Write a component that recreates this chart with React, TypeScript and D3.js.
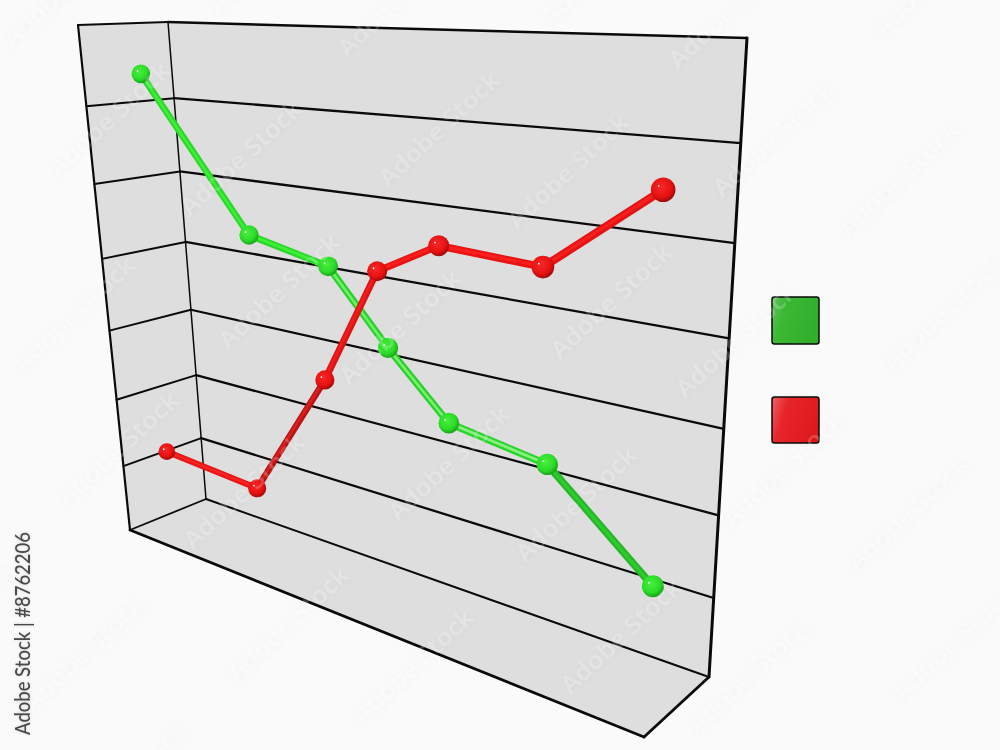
import React from "react";
import * as d3 from "d3";

type P = [number, number];

// Data, in wall units (position 0-10 along the wall, value 0-7 up the wall)
const greenPositions = [-0.79, 1.57, 3.29, 4.46, 5.61, 7.36, 9.1];
const greenValues = [6.29, 4.24, 4.0, 3.07, 2.26, 2.06, 0.91];
const redPositions = [-0.99, 1.37, 3.11, 4.29, 5.47, 7.25, 9.01];
const redValues = [0.58, 0.47, 2.42, 4.05, 4.5, 4.44, 5.46];
const gridValues = [1, 2, 3, 4, 5, 6];

// Tube shading per segment: [body, core]
const greenTube: [string, string][] = [
  ["#2ad82a", "#3cf034"], ["#2ad82a", "#40f038"], ["#2ad02a", "#70f068"],
  ["#2ad02a", "#78f070"], ["#2cd42c", "#88f080"], ["#26b826", "#2ecc2e"],
];
const redTube: [string, string][] = [
  ["#e81616", "#fa2222"], ["#b81414", "#dc1e1e"], ["#dc1414", "#f21c1c"],
  ["#e81414", "#fa1e1e"], ["#e81414", "#fa1e1e"], ["#e41414", "#f81e1e"],
];

// Where each repeated watermark starts
const watermarkStarts: P[] = [
  [13, 48], [218, 15], [347, 58], [58, 178], [190, 217], [388, 188], [23, 373], [228, 350], [349, 386],
  [550, 27], [678, 70], [883, 38], [722, 198], [848, 238], [517, 230], [560, 360], [892, 372], [685, 399],
  [67, 508], [193, 550], [398, 522], [33, 712], [237, 683], [362, 725], [75, 838], [-98, 676],
  [525, 563], [570, 695], [697, 735], [732, 528], [857, 572], [902, 702],
];

// Scene geometry
const backWall: P[] = [[168, 22], [747, 38], [709, 677], [206, 499]];
const sideWall: P[] = [[78, 25], [168, 22], [206, 499], [130, 530]];
const floor: P[] = [[130, 530], [206, 499], [709, 677], [644, 737]];

function homography(q: P[]) {
  const [[x0, y0], [x1, y1], [x2, y2], [x3, y3]] = q;
  const dx1 = x1 - x2, dx2 = x3 - x2, sx = x0 - x1 + x2 - x3;
  const dy1 = y1 - y2, dy2 = y3 - y2, sy = y0 - y1 + y2 - y3;
  const den = dx1 * dy2 - dx2 * dy1;
  const g = (sx * dy2 - dx2 * sy) / den, h = (dx1 * sy - sx * dy1) / den;
  const m = [x1 - x0 + g * x1, x3 - x0 + h * x3, x0, y1 - y0 + g * y1, y3 - y0 + h * y3, y0, g, h];
  return (u: number, v: number): P => {
    const w = m[6] * u + m[7] * v + 1;
    return [(m[0] * u + m[1] * v + m[2]) / w, (m[3] * u + m[4] * v + m[5]) / w];
  };
}

const u = d3.scaleLinear().domain([0, 10]).range([0, 1]);
const v = d3.scaleLinear().domain([0, 7]).range([1, 0]);
const backMap = homography(backWall);
const sideMap = homography(sideWall);
const back = (pos: number, val: number) => backMap(u(pos), v(val));
const poly = d3.line<P>();
const greenRadius = d3.scaleLinear().domain([141, 653]).range([9.3, 11]);
const redRadius = d3.scaleLinear().domain([167, 663]).range([8.3, 12.3]);

const INK = "#0a0a0a";

function Series({ positions, values, id, tube, radius }: { positions: number[]; values: number[]; id: string; tube: [string, string][]; radius: (x: number) => number }) {
  const pts = positions.map((p, i) => back(p, values[i]));
  return (
    <g>
      {pts.slice(1).map((p, i) => {
        const a = pts[i];
        const w = radius((a[0] + p[0]) / 2) * 0.7;
        const d = poly([a, p]) as string;
        return (
          <g key={i} fill="none">
            <path d={d} stroke={tube[i][0]} strokeWidth={w} />
            <path d={d} stroke={tube[i][1]} strokeWidth={w * 0.38} transform="translate(-0.4,-0.4)" />
          </g>
        );
      })}
      {pts.map((p, i) => {
        const r = radius(p[0]);
        return (
          <g key={i}>
            <circle cx={p[0]} cy={p[1]} r={r} fill={`url(#${id})`} />
            <circle cx={p[0] - r * 0.36} cy={p[1] - r * 0.3} r={0.9} fill="#ffffff" />
          </g>
        );
      })}
    </g>
  );
}

export default function App() {
  return (
    <svg width={1000} height={750} viewBox="0 0 1000 750" style={{ position: "absolute", left: 0, top: 0 }}>
      <defs>
        <radialGradient id="ballG" cx="0.42" cy="0.38" r="0.66">
          <stop offset="0" stopColor="#48f03e" />
          <stop offset="0.62" stopColor="#2cdc28" />
          <stop offset="1" stopColor="#159a15" />
        </radialGradient>
        <radialGradient id="ballR" cx="0.42" cy="0.38" r="0.66">
          <stop offset="0" stopColor="#f82828" />
          <stop offset="0.62" stopColor="#e81212" />
          <stop offset="1" stopColor="#980808" />
        </radialGradient>
        <linearGradient id="legG" x1="0" y1="0.15" x2="1" y2="0.45">
          <stop offset="0" stopColor="#62c45c" />
          <stop offset="0.28" stopColor="#3cb834" />
          <stop offset="1" stopColor="#30ae2c" />
        </linearGradient>
        <linearGradient id="legR" x1="0" y1="0.15" x2="1" y2="0.45">
          <stop offset="0" stopColor="#ec5a5e" />
          <stop offset="0.3" stopColor="#e6242a" />
          <stop offset="1" stopColor="#de1a1c" />
        </linearGradient>
        <filter id="wmShadow" x="-10%" y="-10%" width="120%" height="120%">
          <feDropShadow dx="1" dy="1" stdDeviation="3" floodColor="#000" floodOpacity="0.14" />
        </filter>
        <filter id="idShadow" x="-10%" y="-10%" width="120%" height="120%">
          <feDropShadow dx="0" dy="0" stdDeviation="1.5" floodColor="#000" floodOpacity="0.15" />
        </filter>
      </defs>

      <rect width={1000} height={750} fill="#fafafa" />

      <path d={poly(sideWall) + "Z"} fill="#dedede" />
      <path d={poly(backWall) + "Z"} fill="#dedede" />
      <path d={poly(floor) + "Z"} fill="#dedede" />

      <g fill="none" stroke={INK} strokeLinecap="round" strokeLinejoin="round">
        {gridValues.map((g) => (
          <g key={g}>
            <path d={poly([sideMap(0, v(g)), sideMap(1, v(g))]) as string} strokeWidth={2} />
            <path d={poly([sideMap(1, v(g)), backMap(1, v(g))]) as string} strokeWidth={2.3} />
          </g>
        ))}
        <path d={poly([sideWall[1], sideWall[2]]) as string} strokeWidth={1.5} />
        <path d={poly([floor[0], floor[1]]) as string} strokeWidth={1.8} />
        <path d={poly([floor[1], floor[2]]) as string} strokeWidth={2} />
        <path d={poly([sideWall[0], sideWall[1]]) as string} strokeWidth={2} />
        <path d={poly([sideWall[0], sideWall[3]]) as string} strokeWidth={2.2} />
        <path d={poly([backWall[0], backWall[1]]) as string} strokeWidth={2.5} />
        <path d={poly([backWall[1], backWall[2]]) as string} strokeWidth={3} />
        <path d={poly([floor[2], floor[3]]) as string} strokeWidth={2.8} />
        <path d={poly([floor[3], floor[0]]) as string} strokeWidth={2.8} />
      </g>

      <Series positions={greenPositions} values={greenValues} id="ballG" tube={greenTube} radius={greenRadius} />
      <Series positions={redPositions} values={redValues} id="ballR" tube={redTube} radius={redRadius} />

      <rect x={772} y={297} width={47} height={47} rx={2.5} fill="url(#legG)" stroke={INK} strokeWidth={1.5} />
      <rect x={772} y={397} width={47} height={46} rx={2.5} fill="url(#legR)" stroke={INK} strokeWidth={1.5} />

      <g fill="#ffffff" fillOpacity={0.2} fontFamily="'Open Sans'" fontWeight={600} fontSize={24} filter="url(#wmShadow)">
        {watermarkStarts.map(([x, y], i) => (
          <text key={i} transform={`translate(${x},${y}) rotate(-43)`} textLength={155} lengthAdjust="spacingAndGlyphs">
            Adobe Stock
          </text>
        ))}
      </g>

      <text transform="translate(30,735) rotate(-90)" fontFamily="Lato" fontSize={21} fontWeight={500} fill="#4a4a4a" textLength={203} lengthAdjust="spacingAndGlyphs" filter="url(#idShadow)">
        Adobe Stock | #8762206
      </text>
    </svg>
  );
}
